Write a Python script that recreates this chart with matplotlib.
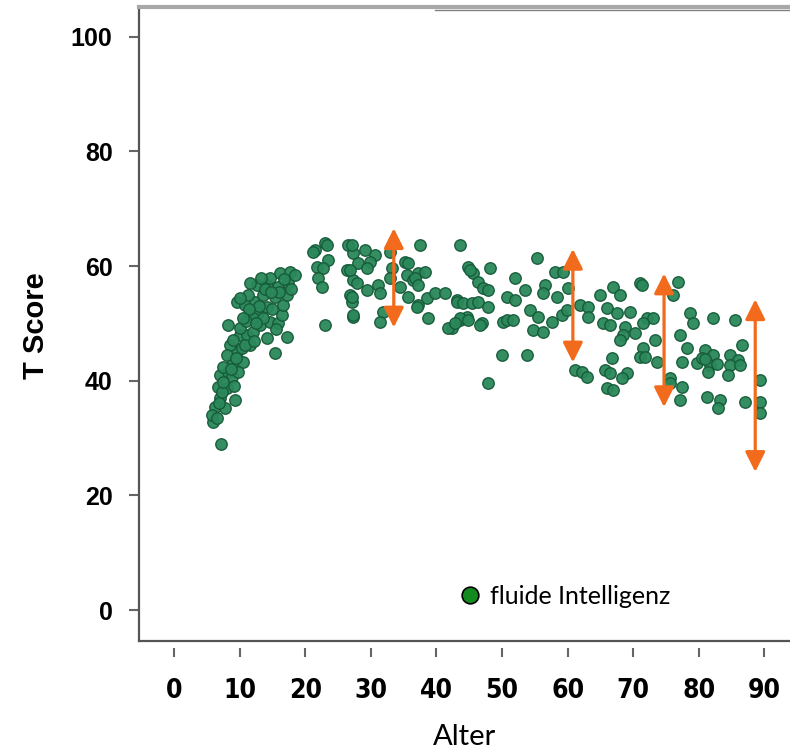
import numpy as np
import matplotlib.pyplot as plt
from matplotlib.lines import Line2D

# ages and T scores, region by region
age_young = [7.2, 5.9, 6.3, 7.8, 9.3, 7.0, 6.7, 8.1, 7.0, 8.2, 7.5, 9.0, 10.5, 9.6, 8.5,
             10.4, 11.6, 10.1, 11.1, 8.2, 10.1, 12.0, 14.2, 15.4, 17.2, 13.1, 14.6, 15.9,
             11.6, 12.8, 16.5, 9.6, 10.8, 12.3, 14.2, 16.6, 11.3, 10.1, 13.6, 15.4, 17.2,
             12.7, 14.2, 15.9, 17.4, 16.2, 17.7, 18.4, 11.6, 14.6, 12.0, 13.6, 9.0, 7.3,
             5.8, 8.8, 9.8, 8.1, 10.8, 6.5, 7.5, 8.7, 9.5, 11.0, 12.5, 13.0, 13.8, 15.0,
             16.0, 12.2, 11.5, 10.5, 14.8, 16.8, 13.2, 17.8, 15.5, 9.2, 6.8]
t_young = [29.0, 32.8, 35.4, 35.3, 36.6, 37.0, 38.9, 38.7, 41.0, 41.5, 42.4, 43.3, 43.3,
           45.0, 46.2, 45.7, 46.2, 48.0, 48.0, 49.7, 49.2, 48.5, 47.5, 44.9, 47.6, 49.7,
           50.3, 50.1, 51.5, 51.8, 51.5, 53.8, 53.2, 53.8, 52.9, 53.2, 55.0, 54.5, 55.0,
           54.6, 55.0, 56.7, 56.7, 56.4, 57.1, 58.8, 59.0, 58.5, 57.1, 57.9, 51.0, 51.0,
           47.1, 38.0, 34.0, 40.7, 41.5, 44.5, 46.2, 33.5, 39.8, 42.0, 44.0, 50.5, 50.0,
           53.0, 56.0, 52.5, 55.5, 47.0, 52.5, 51.0, 55.5, 57.8, 58.0, 56.0, 49.0, 39.0, 36.2]

age_mid = [23.0, 21.5, 23.5, 21.8, 22.7, 22.0, 22.6, 23.0, 21.2, 23.3, 26.5, 27.3, 29.1,
           30.6, 26.4, 28.0, 29.9, 27.3, 29.4, 31.1, 31.4, 26.8, 27.1, 27.3, 31.9, 31.4,
           32.9, 33.2, 35.2, 35.5, 34.5, 36.4, 37.2, 38.3, 37.5, 35.7, 37.2, 38.6, 39.8,
           41.3, 43.1, 43.6, 42.4, 43.6, 44.7, 27.1, 26.8, 29.4, 27.9, 27.1, 27.3, 32.9,
           35.7, 36.7, 37.2, 37.0, 38.7,
           48.2, 44.8, 45.6, 46.3, 47.1, 47.9, 43.1, 44.1, 45.4, 46.3, 47.9, 43.6, 44.8,
           41.8, 42.8, 47.0, 50.2, 50.0, 47.9, 45.1, 46.6]
t_mid = [64.0, 62.8, 61.1, 59.9, 59.7, 57.9, 56.4, 49.7, 62.5, 63.7, 63.7, 62.3, 62.8,
         62.0, 59.3, 60.6, 60.7, 57.6, 55.8, 56.7, 55.3, 55.0, 53.8, 51.1, 52.0, 50.3,
         62.5, 59.7, 60.7, 58.5, 56.4, 57.6, 58.8, 59.0, 63.7, 54.6, 53.2, 54.5, 55.3,
         55.3, 54.1, 63.7, 49.2, 50.6, 51.1, 63.7, 59.3, 59.7, 57.1, 54.6, 51.5, 57.9,
         60.6, 57.9, 56.7, 52.9, 51.0,
         59.7, 59.9, 58.8, 57.2, 56.2, 55.8, 53.8, 53.6, 53.6, 53.8, 52.9, 51.0, 50.6,
         49.2, 50.1, 50.1, 50.3, 44.5, 39.6, 59.3, 49.7]

age_old = [55.3, 58.1, 59.3, 52.0, 53.5, 50.8, 52.0, 56.6, 56.3, 58.4, 60.1, 54.3, 55.5,
           50.8, 51.7, 57.6, 59.1, 59.9, 54.7, 56.3, 53.8, 61.9, 63.1, 63.1, 64.9, 66.9,
           68.0, 66.0, 67.5, 65.4, 66.5, 69.5, 71.0, 68.8, 68.4, 70.3, 68.0, 71.5, 71.0,
           61.1, 62.2, 63.0, 66.8, 65.7, 66.5, 69.1, 68.3, 66.0, 66.9,
           71.3, 76.8, 76.1, 78.7, 79.1, 82.2, 85.5, 72.1, 73.0, 71.5, 73.3, 77.1, 78.2,
           80.9, 82.2, 86.6, 84.8, 85.9, 79.7, 81.7, 81.4, 84.8, 86.3, 84.5, 77.4, 73.6,
           71.8, 75.6, 77.4, 77.1, 81.2, 83.2, 82.9, 87.0, 89.3, 89.3, 89.3, 80.5, 81.0,
           82.8, 75.6]
t_old = [61.4, 59.0, 59.0, 57.9, 55.8, 54.6, 54.1, 56.7, 55.3, 54.6, 56.2, 52.4, 51.1,
         50.6, 50.6, 50.3, 51.5, 52.4, 48.9, 48.5, 44.5, 53.2, 52.9, 51.1, 55.0, 56.4,
         55.0, 52.7, 51.8, 50.1, 49.7, 52.0, 57.1, 49.4, 48.0, 48.3, 47.1, 45.7, 44.2,
         41.9, 41.5, 40.7, 44.0, 41.9, 41.4, 41.4, 40.5, 38.7, 38.4,
         56.7, 57.2, 55.0, 51.8, 50.1, 51.0, 50.6, 51.0, 51.0, 50.1, 47.1, 48.0, 45.7,
         45.4, 44.5, 46.2, 44.5, 43.6, 43.1, 42.8, 41.5, 42.8, 42.8, 41.0, 43.3, 43.3,
         44.2, 40.5, 38.9, 36.6, 37.2, 36.6, 35.3, 36.3, 40.1, 36.3, 34.4, 44.0, 43.8,
         43.0, 39.6]

# orange spread arrows
arrow_age = [33.5, 60.8, 74.7, 88.6]
arrow_top = [66.6, 63.0, 58.7, 54.2]
arrow_bottom = [49.3, 43.2, 35.4, 24.1]

x_ticks = [0, 10, 20, 30, 40, 50, 60, 70, 80, 90]
y_ticks = [0, 20, 40, 60, 80, 100]

ages = np.array(age_young + age_mid + age_old)
scores = np.array(t_young + t_mid + t_old)

fig = plt.figure(figsize=(7.9, 7.5), dpi=100)
ax = fig.add_axes([139 / 790, 1 - 641 / 750, 1 - 139 / 790, 634 / 750])

ax.scatter(ages, scores, s=68, facecolor='#2a885a', edgecolor='#165a39',
           linewidth=1.0, alpha=0.95, zorder=3)

for x, top, bottom in zip(arrow_age, arrow_top, arrow_bottom):
    ax.annotate('', xy=(x, top), xytext=(x, bottom),
                arrowprops=dict(arrowstyle='<|-|>,head_width=0.3,head_length=0.6',
                                mutation_scale=20, lw=2.3, color='#f26a1b',
                                shrinkA=0, shrinkB=0), zorder=4)

ax.set_xlim(-5.34, 93.9)
ax.set_ylim(-5.4, 105.2)
ax.set_xticks(x_ticks)
ax.set_yticks(y_ticks)

# frame: ticks sit a little below the bottom line
ax.spines['right'].set_visible(False)
ax.spines['bottom'].set_position(('outward', 5))
ax.spines['bottom'].set_visible(False)
ax.plot([0, 1], [0, 0], transform=ax.transAxes, color='#555555', lw=1.6,
        clip_on=False, zorder=5)
ax.spines['left'].set_color('#555555')
ax.spines['left'].set_linewidth(1.6)
ax.spines['top'].set_color('#a8a8a8')
ax.spines['top'].set_linewidth(3)
ax.plot([0.455, 1], [0.9953, 0.9953], transform=ax.transAxes, color='#808080',
        lw=1.0, clip_on=False)

ax.tick_params(axis='x', length=6.5, width=1.5, color='#666666', pad=15)
ax.tick_params(axis='y', length=7, width=1.5, color='#666666', pad=12)
for lab in ax.get_xticklabels():
    lab.set_fontfamily(['DejaVu Sans'])
    lab.set_fontstretch('condensed')
    lab.set_fontweight('bold')
    lab.set_fontsize(19)
for lab in ax.get_yticklabels():
    lab.set_fontfamily(['Liberation Sans', 'DejaVu Sans'])
    lab.set_fontweight('bold')
    lab.set_fontsize(18)

ax.set_xlabel('Alter', fontsize=21, family=['Lato', 'DejaVu Sans'])
ax.xaxis.label.set_va('center')
ax.xaxis.set_label_coords(0.50, -0.151)
ax.set_ylabel('T Score', fontsize=21, fontweight='bold',
              family=['Liberation Sans', 'DejaVu Sans'])
ax.yaxis.label.set_va('center')
ax.yaxis.set_label_coords(-0.158, 0.497)

handle = Line2D([], [], linestyle='none', marker='o', markersize=12,
                markerfacecolor='#138a1e', markeredgecolor='black', markeredgewidth=1.2)
ax.legend([handle], ['fluide Intelligenz'], loc='center left',
          bbox_to_anchor=(0.455, 0.07), frameon=False, handletextpad=0.3,
          handlelength=1.0, prop={'family': ['Lato', 'DejaVu Sans'], 'size': 18})

fig.savefig('out.png', dpi=100)
